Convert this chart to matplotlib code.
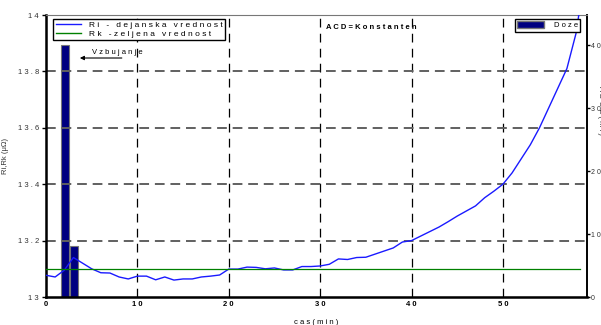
import matplotlib
matplotlib.use("Agg")
import matplotlib.pyplot as plt
from matplotlib.patches import Patch
from matplotlib.lines import Line2D

plt.rcParams["font.family"] = ["Liberation Sans", "DejaVu Sans"]

# Ri - measured value along time (min)
time_min = [0, 1, 2, 3, 4, 5, 6, 7, 8, 9, 10, 11, 12, 13, 14, 15, 16, 17, 18, 19,
            20, 21, 22, 23, 24, 25, 26, 27, 28, 29, 30, 31, 32, 33, 34, 35, 36, 37, 38, 39,
            40, 41, 42, 43, 44, 45, 46, 47, 48, 49, 50, 51, 52, 53, 54, 55, 56, 57, 58, 59]
ri_values = [13.077, 13.071, 13.095, 13.14, 13.12, 13.10, 13.086, 13.085, 13.071, 13.064,
             13.074, 13.074, 13.061, 13.071, 13.06, 13.064, 13.064, 13.071, 13.074, 13.078,
             13.099, 13.099, 13.106, 13.105, 13.100, 13.103, 13.096, 13.096, 13.108, 13.108,
             13.110, 13.116, 13.135, 13.133, 13.140, 13.141, 13.152, 13.163, 13.174, 13.195,
             13.200, 13.216, 13.232, 13.248, 13.267, 13.287, 13.305, 13.323, 13.352, 13.375,
             13.400, 13.440, 13.490, 13.540, 13.600, 13.670, 13.740, 13.810, 13.935, 14.15]

# Rk - target value
rk_time = [0, 58.4]
rk_values = [13.1, 13.1]

# Doses (ml)
dose_time = [2.05, 3.05]
dose_values = [40.0, 8.1]

xticks = [0, 10, 20, 30, 40, 50]
yticks_left = [13, 13.2, 13.4, 13.6, 13.8, 14]
yticks_right = [0, 10, 20, 30, 40]


def spaced(s):
    return " ".join(list(s))


fig = plt.figure(figsize=(6.01, 3.25), dpi=100)
ax = fig.add_axes([46 / 601, 1 - 297 / 325, 541 / 601, 282 / 325])
ax2 = ax.twinx()
ax.set_zorder(ax2.get_zorder() + 1)
ax.patch.set_visible(False)

# bars on the right axis
ax2.bar(dose_time, dose_values, width=0.88, color="#000080", edgecolor="#777777", linewidth=0.8)
ax2.set_ylim(0, 44.8)
ax2.set_yticks(yticks_right)
ax2.set_yticklabels([spaced(str(v)) for v in yticks_right], fontsize=5, color="#333333")
ax2.tick_params(axis="y", length=2.5, width=1, pad=0.5)

# grid
for xv in xticks[1:]:
    ax.axvline(xv, color="black", lw=0.9, ls=(0, (7, 5)), zorder=0.5)
for yv in yticks_left[1:-1]:
    ax.axhline(yv, color="#606060", lw=1.4, ls=(0, (5, 3)), zorder=0.5)

ax.plot(time_min, ri_values, color="#1a1aff", lw=1.0, zorder=3)
ax.plot(rk_time, rk_values, color="#008000", lw=0.9, zorder=3)

ax.set_xlim(0, 59.2)
ax.set_ylim(13, 14)
ax.set_xticks(xticks)
ax.set_xticklabels([spaced(str(v)) for v in xticks], fontsize=5.5, fontweight="bold")
ax.set_yticks(yticks_left)
ax.set_yticklabels([spaced(f"{v:g}") for v in yticks_left], fontsize=5.5, color="#333333")
ax.tick_params(axis="x", length=0, pad=3)
ax.tick_params(axis="y", length=3, width=1, pad=2)

for side in ["left", "bottom"]:
    ax.spines[side].set_linewidth(1.8)
ax.spines["right"].set_linewidth(1.2)
ax.spines["top"].set_color("#777777")
ax2.spines["right"].set_linewidth(1.2)
ax2.spines["top"].set_visible(False)

ax.set_xlabel(spaced("cas(min)"), fontsize=5.5, labelpad=8)
ax.set_ylabel("Ri,Rk (μΩ)", fontsize=5.5, color="#333333", labelpad=6)
fig.text(597 / 601, 1 - 110 / 325, spaced("ADOZ(ml)"), rotation=270, fontsize=5.5,
         color="#333333", ha="left", va="center")

ax.text(30.6, 13.957, spaced("ACD=Konstanten"), fontsize=5.5, fontweight="bold", va="center")

ax.annotate("", xy=(3.4, 13.8475), xytext=(8.6, 13.8475),
            arrowprops=dict(arrowstyle="-|>", color="black", lw=0.8, mutation_scale=6))
ax.text(5.0, 13.853, spaced("Vzbujanje"), fontsize=5.5, va="bottom")

handles = [Line2D([], [], color="#1a1aff", lw=1.0), Line2D([], [], color="#008000", lw=1.0)]
leg = ax.legend(handles, [spaced("Ri - dejanska vrednost"), spaced("Rk -zeljena vrednost")],
                loc="upper left", bbox_to_anchor=(0.013, 0.986), borderaxespad=0,
                fontsize=6, fancybox=False, framealpha=1, edgecolor="black",
                handlelength=3.0, borderpad=0.3, labelspacing=0.05, handletextpad=1.0)
leg.get_frame().set_linewidth(1.0)

leg2 = ax.legend([Patch(facecolor="#000080", edgecolor="#777777")], [spaced("Doze")],
                 loc="upper right", bbox_to_anchor=(0.987, 0.986), borderaxespad=0,
                 fontsize=5.5, fancybox=False, framealpha=1, edgecolor="black",
                 handlelength=3.5, handleheight=1.0, borderpad=0.3, handletextpad=1.3)
leg2.get_frame().set_linewidth(1.0)
ax.add_artist(leg)

fig.savefig("out.png", dpi=100)
